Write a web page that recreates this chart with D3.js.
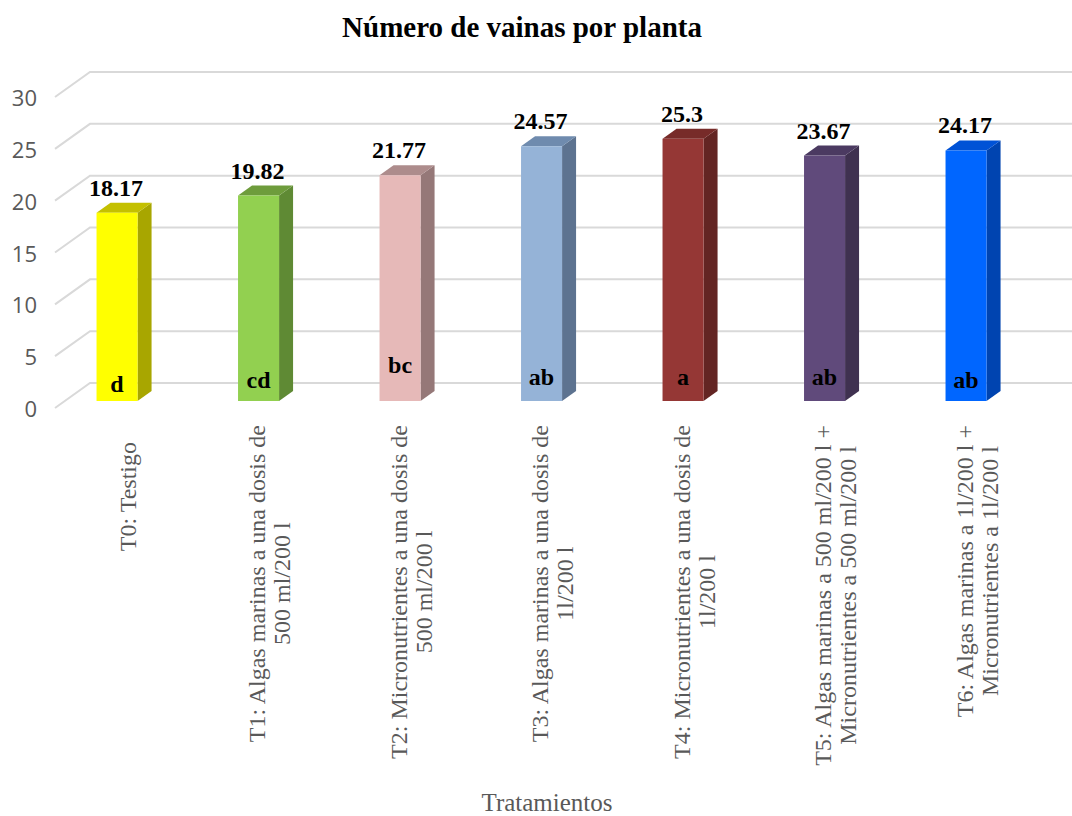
<!DOCTYPE html>
<html>
<head>
<meta charset="utf-8">
<script src="https://cdn.jsdelivr.net/npm/d3@7"></script>
<style>
  html, body { margin: 0; padding: 0; background: #fff; }
  svg { display: block; }
</style>
</head>
<body>
<svg id="chart" width="1072" height="816"></svg>
<script>
// ---- data ----
const categories = ["T0", "T1", "T2", "T3", "T4", "T5", "T6"];
const categoryLabels = [
  ["T0: Testigo"],
  ["T1: Algas marinas a una dosis de", "500 ml/200 l"],
  ["T2: Micronutrientes a una dosis de", "500 ml/200 l"],
  ["T3: Algas marinas a una dosis de", "1l/200 l"],
  ["T4: Micronutrientes a una dosis de", "1l/200 l"],
  ["T5: Algas marinas a 500 ml/200 l +", "Micronutrientes a 500 ml/200 l"],
  ["T6: Algas marinas a 1l/200 l +", "Micronutrientes a 1l/200 l"]
];
const vainas = [18.17, 19.82, 21.77, 24.57, 25.3, 23.67, 24.17];
const significance = ["d", "cd", "bc", "ab", "a", "ab", "ab"];
const yTicks = [0, 5, 10, 15, 20, 25, 30];

// ---- styling ----
const frontColors = ["#FFFF00", "#92D050", "#E6B9B8", "#95B3D7", "#953735", "#604A7B", "#0066FF"];
const sideColors  = ["#A8A600", "#5F8A34", "#957878", "#5D7390", "#632523", "#3F3150", "#0044B0"];
const topColors   = ["#C4C000", "#6E9C3C", "#AD8C8C", "#6F8BAE", "#772B29", "#4B3A61", "#0052D6"];
const letterLift  = [9, 13, 28, 16, 16, 16, 13];   // px above the bar foot
const labelDrop   = [17, 0, 0, 0, 0, 0, 0];         // extra px below the axis

const svg = d3.select("#chart");
const serif = "'Liberation Serif', 'Times New Roman', serif";

// 3D oblique projection: depth 0 = front edge of the floor, 1 = back wall
const depthX = 35, depthY = 25;
const dFront = 0.28, dBack = 0.68;
const y = d3.scaleLinear().domain([0, 30]).range([408, 97]);
const x = d3.scaleBand().domain(categories).range([36.5, 1027])
  .paddingInner(0.71).paddingOuter(0.355);
const proj = (px, v, d) => [px + depthX * d, y(v) - depthY * d];
const wallLeft = 55, plotRight = 1072;

// gridlines: diagonal on the side wall + horizontal on the back wall
const grid = svg.append("g");
yTicks.forEach(t => {
  const a = proj(wallLeft, t, 0), b = proj(wallLeft, t, 1);
  grid.append("polyline")
    .attr("points", [a, b, [plotRight, b[1]]].map(p => p.join(",")).join(" "))
    .attr("fill", "none").attr("stroke", "#D9D9D9").attr("stroke-width", 2);
});

// y tick labels
svg.append("g").selectAll("text").data(yTicks).join("text")
  .attr("x", 37).attr("y", d => y(d))
  .attr("text-anchor", "end").attr("dominant-baseline", "central")
  .attr("font-family", "'Open Sans', sans-serif").attr("font-size", 22)
  .attr("fill", "#595959").text(d => d);

// bars
const bw = x.bandwidth();
const poly = pts => pts.map(p => p.join(",")).join(" ");
const bars = svg.append("g");
categories.forEach((c, i) => {
  const v = vainas[i];
  const xl = x(c), xr = x(c) + bw;
  const g = bars.append("g");
  // side face
  g.append("polygon").attr("fill", sideColors[i])
    .attr("points", poly([proj(xr, 0, dFront), proj(xr, v, dFront), proj(xr, v, dBack), proj(xr, 0, dBack)]));
  // top face
  g.append("polygon").attr("fill", topColors[i])
    .attr("points", poly([proj(xl, v, dFront), proj(xr, v, dFront), proj(xr, v, dBack), proj(xl, v, dBack)]));
  // front face
  g.append("polygon").attr("fill", frontColors[i])
    .attr("points", poly([proj(xl, 0, dFront), proj(xr, 0, dFront), proj(xr, v, dFront), proj(xl, v, dFront)]));

  const cx = proj(xl + bw / 2, 0, dFront)[0];
  // value label
  svg.append("text")
    .attr("x", cx - 1).attr("y", proj(xl, v, dBack)[1] - 7)
    .attr("text-anchor", "middle")
    .attr("font-family", serif)
    .attr("font-weight", "bold").attr("font-size", 24).attr("fill", "#000")
    .text(v);
  // significance letter
  svg.append("text")
    .attr("x", cx).attr("y", proj(xl, 0, dFront)[1] - letterLift[i])
    .attr("text-anchor", "middle")
    .attr("font-family", serif)
    .attr("font-weight", "bold").attr("font-size", 24).attr("fill", "#000")
    .text(significance[i]);
});

// category labels, rotated, lines centred on each other
const lineGap = 25, labelTop = 425;
categories.forEach((c, i) => {
  const lines = categoryLabels[i];
  const cx = x(c) + bw / 2 + depthX * 0.6;
  const g = svg.append("g")
    .attr("transform", `translate(${cx},${labelTop + labelDrop[i]}) rotate(-90)`);
  const texts = g.selectAll("text").data(lines).join("text")
    .attr("y", (d, k) => (k - (lines.length - 1) / 2) * lineGap)
    .attr("text-anchor", "middle").attr("dominant-baseline", "central")
    .attr("font-family", serif)
    .attr("font-size", 24).attr("fill", "#595959")
    .text(d => d);
  const maxLen = d3.max(texts.nodes(), n => n.getComputedTextLength());
  texts.attr("x", -maxLen / 2);
});

// title
svg.append("text")
  .attr("x", 522).attr("y", 37).attr("text-anchor", "middle")
  .attr("font-family", serif)
  .attr("font-weight", "bold").attr("font-size", 29).attr("fill", "#000")
  .text("Número de vainas por planta");

// axis title
svg.append("text")
  .attr("x", 547).attr("y", 811).attr("text-anchor", "middle")
  .attr("font-family", serif)
  .attr("font-size", 25).attr("fill", "#595959")
  .text("Tratamientos");
</script>
</body>
</html>
